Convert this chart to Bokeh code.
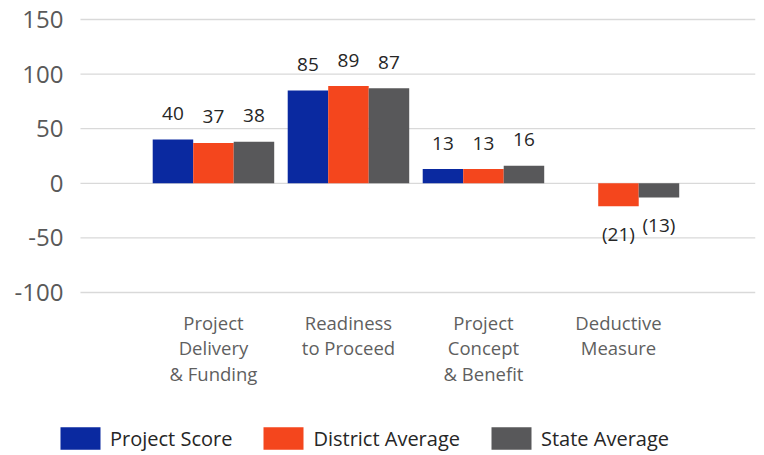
from bokeh.plotting import figure
from bokeh.models import ColumnDataSource, FixedTicker, Legend, LegendItem, Range1d
from bokeh.core.properties import value
from bokeh.embed import file_html
from bokeh.resources import INLINE

# ---- data ----
categories = ["Project\nDelivery\n& Funding", "Readiness\nto Proceed",
              "Project\nConcept\n& Benefit", "Deductive\nMeasure"]
series_names = ["Project Score", "District Average", "State Average"]
project_score = [40, 85, 13, None]
district_average = [37, 89, 13, -21]
state_average = [38, 87, 16, -13]
y_ticks = [-100, -50, 0, 50, 100, 150]

series_values = [project_score, district_average, state_average]
colors = ["#0A29A0", "#F4461D", "#58585A"]
offsets = [-0.3, 0.0, 0.3]
BAR_W = 0.3
FONT = "Open Sans"
PX = 1.092                       # pixels per y unit
Y_TOP = 150 + 19 / PX
Y_BOTTOM = Y_TOP - 455 / PX
X_START, X_END = -1.170, 4.015   # frame extent
GRID_X0, GRID_X1 = -0.985, 4.015 # grid line extent
CAT_LABEL_Y = Y_TOP - 309 / PX

p = figure(width=764, height=455, output_backend="svg", toolbar_location=None,
           x_range=Range1d(X_START, X_END), y_range=Range1d(Y_BOTTOM, Y_TOP),
           x_axis_location=None,
           min_border_left=55, min_border_right=9, min_border_top=0,
           min_border_bottom=0)
p.outline_line_color = None
p.background_fill_color = "white"
p.border_fill_color = "white"

# horizontal grid lines (restricted extent)
p.segment(x0=GRID_X0, x1=GRID_X1, y0="y", y1="y",
          source=ColumnDataSource(dict(y=y_ticks)),
          line_color="#D9D9D9", line_width=1.3)

items = []
for name, vals, col, off in zip(series_names, series_values, colors, offsets):
    xs, tops, labels, yoffs = [], [], [], []
    for i, v in enumerate(vals):
        if v is None:
            continue
        xs.append(i + off)
        tops.append(v)
        labels.append(f"({abs(v)})" if v < 0 else str(v))
        yoffs.append(28 if v < 0 else -26)
    src = ColumnDataSource(dict(x=xs, top=tops, label=labels, yoff=yoffs))
    r = p.vbar(x="x", top="top", bottom=0, width=BAR_W, source=src,
               fill_color=col, line_color=None)
    p.text(x="x", y="top", text="label", y_offset="yoff", source=src,
           text_font=value(FONT), text_font_size="19px", text_color="#262626",
           text_align="center", text_baseline="middle")
    items.append(LegendItem(label=name, renderers=[r]))

# category labels
cat_src = ColumnDataSource(dict(x=list(range(len(categories))), text=categories))
p.text(x="x", y=CAT_LABEL_Y, text="text", source=cat_src,
       text_font=value(FONT), text_font_size="18.5px", text_color="#5F5F5F",
       text_align="center", text_baseline="top", text_line_height=1.03)

# y axis
p.yaxis.ticker = FixedTicker(ticks=y_ticks)
p.yaxis.major_label_overrides = {t: str(t) for t in y_ticks}
p.yaxis.axis_line_color = None
p.yaxis.major_tick_line_color = None
p.yaxis.minor_tick_line_color = None
p.yaxis.major_tick_out = 0
p.yaxis.major_tick_in = 0
p.yaxis.major_label_text_font = FONT
p.yaxis.major_label_text_font_size = "24px"
p.yaxis.major_label_text_color = "#595959"
p.yaxis.major_label_standoff = -8

p.xgrid.grid_line_color = None
p.ygrid.grid_line_color = None

legend = Legend(items=items, orientation="horizontal", location=(0, 3),
                glyph_width=50, glyph_height=28, label_standoff=5,
                spacing=26, padding=0, margin=0,
                label_text_font=FONT, label_text_font_size="20px",
                label_text_color="#262626", border_line_color=None,
                background_fill_alpha=0)
p.add_layout(legend, "center")

open("out.html", "w").write(file_html(p, INLINE))
